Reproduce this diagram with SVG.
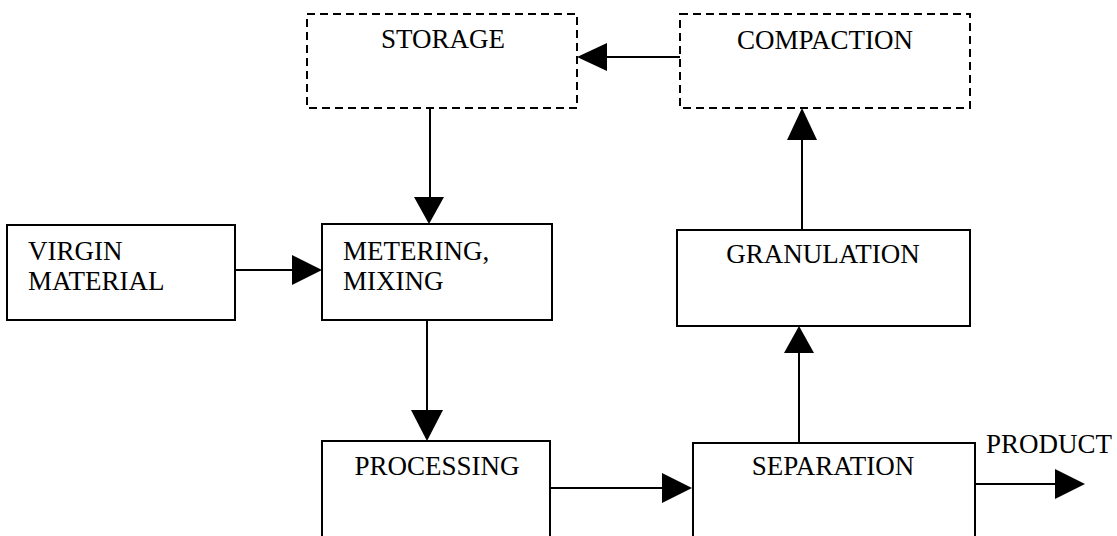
<svg xmlns="http://www.w3.org/2000/svg" width="1117" height="536" viewBox="0 0 1117 536">
<style>
.box{fill:#fff;stroke:#000;stroke-width:2}
.dash{fill:#fff;stroke:#000;stroke-width:2;stroke-dasharray:8 5}
.lbl{font-family:"Liberation Serif","Times New Roman",serif;font-size:27px;fill:#000}
.mid{text-anchor:middle}
.conn{stroke:#000;stroke-width:2;fill:none}
.head{fill:#000;stroke:none}
</style>
<rect width="1117" height="536" fill="#fff"/>
<g id="connectors">
<line class="conn" x1="680" y1="57" x2="600" y2="57"/>
<polygon class="head" points="577,57 607,43 607,71"/>
<line class="conn" x1="430" y1="108" x2="430" y2="200"/>
<polygon class="head" points="429,224 414,197 444,197"/>
<line class="conn" x1="235" y1="270" x2="300" y2="270"/>
<polygon class="head" points="322,270 292,255 292,285"/>
<line class="conn" x1="427" y1="320" x2="427" y2="415"/>
<polygon class="head" points="427,441 411,410 443,410"/>
<line class="conn" x1="550" y1="488" x2="665" y2="488"/>
<polygon class="head" points="692,488 662,473 662,503"/>
<line class="conn" x1="799" y1="443" x2="799" y2="350"/>
<polygon class="head" points="799,326 784,353 814,353"/>
<line class="conn" x1="802" y1="230" x2="802" y2="135"/>
<polygon class="head" points="802,108 787,140 817,140"/>
<line class="conn" x1="975" y1="484" x2="1058" y2="484"/>
<polygon class="head" points="1085,484 1055,469 1055,499"/>
</g>
<g id="storage">
<rect class="dash" x="307" y="14" width="270" height="94"/>
<text class="lbl mid" x="443" y="48">STORAGE</text>
</g>
<g id="compaction">
<rect class="dash" x="680" y="14" width="290" height="94"/>
<text class="lbl mid" x="825" y="49">COMPACTION</text>
</g>
<g id="virgin">
<rect class="box" x="7" y="225" width="228" height="95"/>
<text class="lbl" x="28" y="260">VIRGIN</text>
<text class="lbl" x="28" y="290">MATERIAL</text>
</g>
<g id="metering">
<rect class="box" x="322" y="224" width="230" height="96"/>
<text class="lbl" x="343" y="260">METERING,</text>
<text class="lbl" x="343" y="290">MIXING</text>
</g>
<g id="granulation">
<rect class="box" x="677" y="230" width="293" height="96"/>
<text class="lbl mid" x="823" y="263">GRANULATION</text>
</g>
<g id="processing">
<rect class="box" x="322" y="441" width="228" height="110"/>
<text class="lbl mid" x="437" y="475">PROCESSING</text>
</g>
<g id="separation">
<rect class="box" x="693" y="443" width="282" height="110"/>
<text class="lbl mid" x="833" y="475">SEPARATION</text>
</g>
<g id="product">
<text class="lbl" x="986" y="453">PRODUCT</text>
</g>
</svg>
